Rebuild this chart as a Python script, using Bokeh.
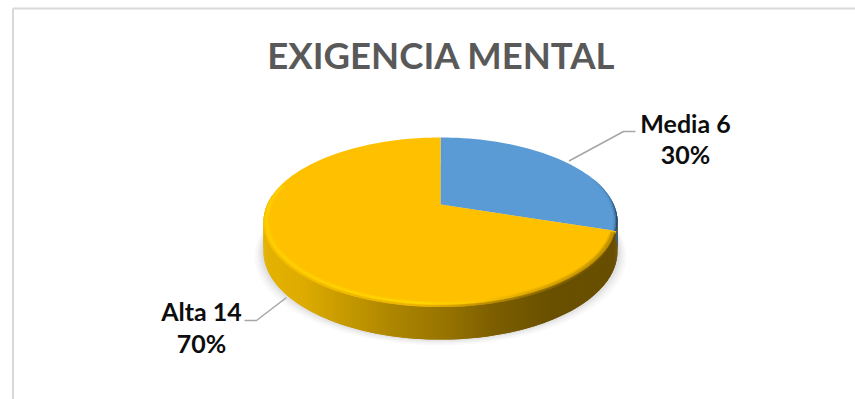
import math
from bokeh.plotting import figure
from bokeh.embed import file_html
from bokeh.resources import INLINE
from bokeh.core.properties import value

# Chart content
chart_title = "EXIGENCIA MENTAL"
categories = ["Media", "Alta"]
counts = [6, 14]
slice_colors = ["#5B9BD5", "#FFC000"]
label_first = ["Media 6", "Alta 14"]
label_second = ["30%", "70%"]

W, H = 855, 399
CX, CY = 440.0, 204.0       # projected centre of the disc
RX, RY, PERSP = 173.3, 80.6, 0.2024
DROP, BASE_SCALE = 29.0, 1.05
FONT = value("Lato")

p = figure(width=W, height=H, x_range=(0, W), y_range=(H, 0),
           output_backend="svg", toolbar_location=None, min_border=0,
           outline_line_color=None, background_fill_color="white",
           border_fill_color="white")
p.axis.visible = False
p.grid.visible = False


def project(theta, r=1.0, drop=0.0, scale=1.0):
    """Perspective view of a point on the disc; theta runs clockwise from the top."""
    x, y = r * math.sin(theta), r * math.cos(theta)
    w = 1 + PERSP * y
    return CX + RX * x / w * (scale if scale < 1 else 1), CY + drop - RY * scale * y / w


def mix(stops, t):
    t = min(max(t, stops[0][0]), stops[-1][0])
    for (a, ca), (b, cb) in zip(stops, stops[1:]):
        if t <= b:
            f = (t - a) / (b - a) if b > a else 0
            return tuple(ca[i] + (cb[i] - ca[i]) * f for i in range(3))
    return stops[-1][1]


def hexcolor(rgb):
    return "#%02x%02x%02x" % tuple(round(v) for v in rgb)


def steps(a, b, n):
    return [a + (b - a) * i / n for i in range(n + 1)]


def strips(thetas, outer, inner, color_of):
    # Each strip reaches over the next one so no seams show between neighbours
    xs, ys, cs = [], [], []
    for i in range(len(thetas) - 1):
        t0, t1 = thetas[i], thetas[min(i + 2, len(thetas) - 1)]
        a0, a1 = outer(t0), outer(t1)
        b0, b1 = inner(t1), inner(t0)
        xs.append([a0[0], a1[0], b0[0], b1[0]])
        ys.append([a0[1], a1[1], b0[1], b1[1]])
        mid = outer(thetas[i])
        cs.append(hexcolor(color_of(mid[0])))
    p.patches(xs, ys, fill_color=cs, line_color=None)


# Chart frame: only the top and left rules are visible
p.segment([12.5, 12.5], [8, 8], [W, 12.5], [8, H], line_color="#d9d9d9", line_width=2)

# Soft ground shadow under the disc
for grow, alpha in [(9, 0.02), (7, 0.025), (5, 0.03), (3, 0.04), (1, 0.045)]:
    ts = steps(0, 2 * math.pi, 120)
    pts = [project(t, 1.0, DROP - 1, BASE_SCALE) for t in ts]
    p.patch([CX + (x - CX) * (1 + grow / 175) for x, _ in pts],
            [y + grow * 0.75 for _, y in pts],
            fill_color="#000000", fill_alpha=alpha, line_color=None)

# Extruded side wall
total = sum(counts)
split = 2 * math.pi * counts[0] / total
side_stops = [(263, (228, 178, 0)), (300, (222, 172, 0)), (340, (200, 155, 0)),
              (400, (168, 130, 0)), (445, (150, 115, 0)), (490, (125, 95, 0)),
              (550, (105, 80, 0)), (617, (105, 78, 0))]
outer_top = lambda t: project(t)
outer_bot = lambda t: project(t, 1.0, DROP, BASE_SCALE)
strips(steps(split - 0.18, 2 * math.pi * 0.77, 220)[::-1], outer_bot, outer_top,
       lambda x: mix(side_stops, x))
blue_side = [(600, (40, 85, 130)), (617, (50, 100, 150))]
strips(steps(math.radians(93), split - 0.16, 8), outer_bot, outer_top,
       lambda x: mix(blue_side, x))

# Pie faces, one slice per category
start = 0.0
for count, color in zip(counts, slice_colors):
    end = start + 2 * math.pi * count / total
    n = max(8, int(count * 8))
    arc = [project(t) for t in steps(start, end, n)]
    p.patch([CX] + [a[0] for a in arc], [CY] + [a[1] for a in arc],
            fill_color=color, line_color=None)
    start = end

# Bevel round the face, drawn as nested bands that fade into the flat colour:
# a bright lip on the lit side, dark shading on the far side
FACE_GOLD = (255, 192, 0)
FACE_BLUE = (91, 155, 213)
edge_gold = [(263, (246, 190, 0)), (340, (240, 185, 0)), (420, (235, 180, 0)), (470, (205, 155, 0)),
             (530, (150, 113, 0)), (580, (120, 90, 0)), (617, (105, 78, 0))]
lip_gold = [(263, (255, 206, 0)), (420, (255, 214, 0)), (480, (255, 198, 0)),
            (530, (225, 170, 0)), (617, (190, 145, 0))]
edge_blue = [(590, (91, 155, 213)), (608, (75, 130, 180)), (617, (35, 70, 105))]
bands = [(1.0, 1.5, 0.0), (0.995, 0.0, 0.6), (0.99, 0.0, 1.0), (0.983, 0.0, 1.0),
         (0.976, 0.0, 0.5), (0.969, 0.0, 0.2)]


def gold_band(f, k):
    def color(x):
        if k == 0:
            return mix(edge_gold, x)
        lip = mix(lip_gold, x)
        if k <= 2:
            e = mix(edge_gold, x)
            return tuple(e[i] + (lip[i] - e[i]) * f for i in range(3))
        return tuple(FACE_GOLD[i] + (lip[i] - FACE_GOLD[i]) * f for i in range(3))
    return color


gold_arc = steps(split + 0.015, 2 * math.pi * 0.79, 150)
for k, (r, drop, f) in enumerate(bands[:-1]):
    next_r = bands[k + 1][0]
    strips(gold_arc, lambda t, r=r, drop=drop: project(t, r, drop),
           lambda t, nr=next_r: project(t, nr), gold_band(f, k))
blue_arc = steps(math.radians(70), split, 24)
for k, (r0, r1, f) in enumerate([(1.0, 0.993, 1.0), (0.993, 0.986, 0.55), (0.986, 0.98, 0.2)]):
    strips(blue_arc, lambda t, r0=r0: project(t, r0), lambda t, r1=r1: project(t, r1),
           lambda x, f=f: tuple(FACE_BLUE[i] + (mix(edge_blue, x)[i] - FACE_BLUE[i]) * f for i in range(3)))

# Leader lines
p.line([568.5, 623, 635], [160.5, 131, 131], line_color="#a6a6a6", line_width=1.5)
p.line([286, 256, 244], [297, 320, 320], line_color="#a6a6a6", line_width=1.5)

# Title and data labels
p.text([441], [54], text=[chart_title], text_font=FONT, text_font_style="bold",
       text_font_size="36.5px", text_color="#595959", text_align="center",
       text_baseline="alphabetic")
p.text([685, 685], [122, 153], text=[label_first[0], label_second[0]], text_font=FONT,
       text_font_style="bold", text_font_size="25px", text_color="#0d0d0d",
       text_align="center", text_baseline="alphabetic")
p.text([201, 201], [310, 342], text=[label_first[1], label_second[1]], text_font=FONT,
       text_font_style="bold", text_font_size="25px", text_color="#0d0d0d",
       text_align="center", text_baseline="alphabetic")

open("out.html", "w").write(file_html(p, INLINE))
